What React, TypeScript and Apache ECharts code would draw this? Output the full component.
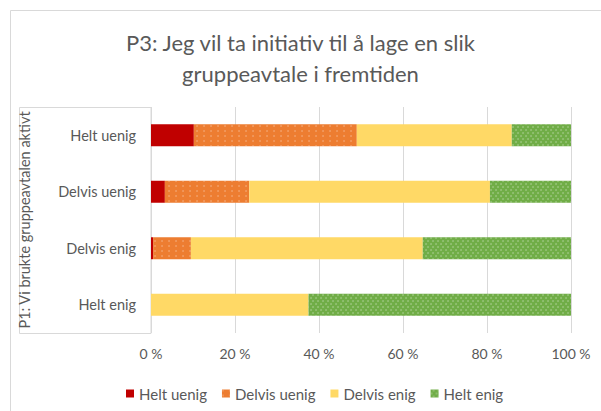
import React, { useEffect, useRef } from "react";
import * as echarts from "echarts";

const categories = ["Helt uenig", "Delvis uenig", "Delvis enig", "Helt enig"];
const heltUenig = [10.2, 3.3, 0.5, 0];
const delvisUenig = [38.8, 20.1, 9.0, 0];
const delvisEnig = [36.9, 57.3, 55.2, 37.5];
const heltEnig = [14.1, 19.3, 35.3, 62.5];
const seriesNames = ["Helt uenig", "Delvis uenig", "Delvis enig", "Helt enig"];
const xTicks = [0, 20, 40, 60, 80, 100];

const FONT = "Lato, 'Liberation Sans', sans-serif";
const GREY = "#595959";

export default function App() {
  const ref = useRef<HTMLDivElement>(null);
  useEffect(() => {
    if (!ref.current) return;
    const chart = echarts.init(ref.current, undefined, { renderer: "svg" });
    const seriesData = [heltUenig, delvisUenig, delvisEnig, heltEnig];
    const colors = ["#C00000", "#ED7D31", "#FFD966", "#70AD47"];
    const decals: any[] = [
      null,
      {
        symbol: "circle",
        symbolSize: 0.6,
        color: "rgba(255,255,255,0.55)",
        dashArrayX: [[2, 4.5]],
        dashArrayY: [2, 3],
      },
      null,
      {
        symbol: "circle",
        symbolSize: 0.7,
        color: "rgba(255,255,255,0.5)",
        dashArrayX: [[1.5, 2.5], [0, 2, 1.5, 0.5]],
        dashArrayY: [1.5, 0.5],
      },
    ];
    chart.setOption({
      animation: false,
      backgroundColor: "#ffffff",
      title: {
        text: "P3: Jeg vil ta initiativ til å lage en slik\ngruppeavtale i fremtiden",
        left: "center",
        top: 22,
        textStyle: {
          fontFamily: FONT,
          fontSize: 22,
          fontWeight: "normal",
          color: GREY,
          lineHeight: 31,
        },
      },
      legend: {
        data: seriesNames,
        top: 381,
        left: 121,
        itemWidth: 8,
        itemHeight: 8,
        itemGap: 15,
        icon: "rect",
        textStyle: { fontFamily: FONT, fontSize: 15, color: GREY },
      },
      grid: { left: 151, right: 30, top: 107, bottom: 78 },
      xAxis: {
        type: "value",
        min: 0,
        max: 100,
        interval: 20,
        axisLine: { show: false },
        axisTick: { show: false },
        splitLine: { show: true, lineStyle: { color: "#d9d9d9", width: 1 } },
        axisLabel: {
          formatter: (v: number) => (xTicks.includes(v) ? `${v} %` : ""),
          fontFamily: FONT,
          fontSize: 14,
          color: GREY,
          margin: 13,
        },
      },
      yAxis: {
        type: "category",
        data: categories,
        inverse: true,
        axisLine: { show: false },
        axisTick: { show: false },
        axisLabel: { fontFamily: FONT, fontSize: 14.5, color: GREY, margin: 15 },
        name: "P1: Vi brukte gruppeavtalen aktivt",
        nameLocation: "middle",
        nameRotate: 90,
        nameGap: 119,
        nameTextStyle: { fontFamily: FONT, fontSize: 14.5, color: GREY },
      },
      graphic: [
        {
          type: "rect",
          shape: { x: 10.5, y: 10.5, width: 600, height: 410 },
          style: { fill: "none", stroke: "#d9d9d9", lineWidth: 1 },
          silent: true,
        },
        {
          type: "rect",
          shape: { x: 19.5, y: 107.5, width: 131.5, height: 226 },
          style: { fill: "none", stroke: "#d9d9d9", lineWidth: 1 },
          silent: true,
        },
      ],
      series: seriesNames.map((name, i) => ({
        name,
        type: "bar",
        stack: "total",
        barWidth: 22,
        data: seriesData[i],
        itemStyle: decals[i]
          ? { color: colors[i], decal: decals[i] }
          : { color: colors[i] },
      })),
    });
    return () => chart.dispose();
  }, []);
  return (
    <div
      ref={ref}
      style={{ position: "fixed", left: 0, top: 0, width: 601, height: 411 }}
    />
  );
}
